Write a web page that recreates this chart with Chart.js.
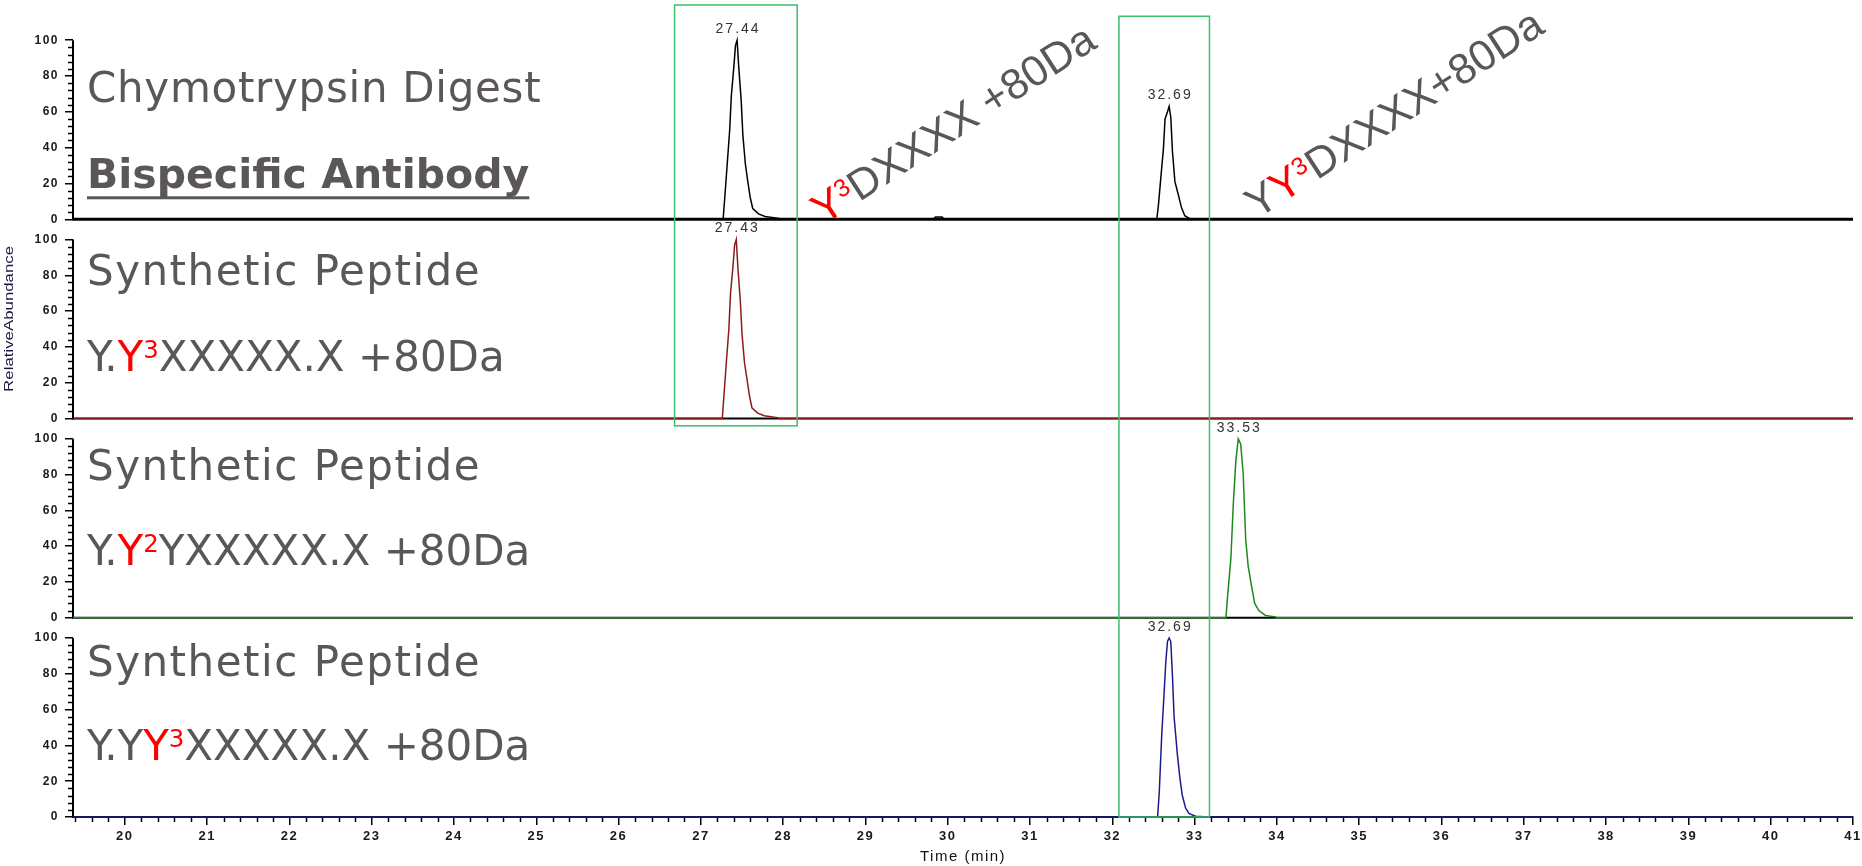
<!DOCTYPE html>
<html>
<head>
<meta charset="utf-8">
<title>Chymotrypsin digest vs synthetic peptides</title>
<script src="https://cdn.jsdelivr.net/npm/chart.js@4.4.0/dist/chart.umd.min.js"></script>
<style>
  html, body { margin: 0; padding: 0; background: #fff; }
  #wrap { width: 1862px; height: 866px; }
</style>
</head>
<body>
<div id="wrap"><canvas id="chart-main" width="1862" height="866"></canvas></div>
<script>
// retention time axis (min)
const timeMin = 19.37;
const timeMax = 41;
const timeTicks = [20, 21, 22, 23, 24, 25, 26, 27, 28, 29, 30, 31, 32, 33, 34, 35, 36, 37, 38, 39, 40, 41];
const abundanceTicks = [0, 20, 40, 60, 80, 100];
const abundanceMax = 111.3;

// panel 1: chymotrypsin digest, bispecific antibody
const digestTime = [19.37, 27.27, 27.29, 27.32, 27.35, 27.37, 27.40, 27.42, 27.44, 27.46, 27.49, 27.51, 27.54, 27.57, 27.60, 27.63, 27.70, 27.78, 27.95, 27.97,
  29.82, 29.85, 29.93, 29.96,
  32.54, 32.56, 32.60, 32.62, 32.64, 32.67, 32.69, 32.71, 32.73, 32.76, 32.80, 32.84, 32.88, 32.95, 41];
const digestAbund = [0, 0, 12, 31, 50, 69, 85, 97, 100, 85, 66, 47, 31, 21, 12, 6, 3, 1.5, 0.5, 0,
  0, 1.2, 1.2, 0,
  0, 8, 29, 39, 56, 60, 63, 57, 38, 21, 14, 6.5, 2, 0, 0];
const digestPeaks = [27.44, 32.69];

// panel 2: synthetic Y.Y3XXXXX.X +80Da
const syn1Time = [19.37, 27.26, 27.28, 27.31, 27.34, 27.36, 27.39, 27.41, 27.43, 27.45, 27.48, 27.50, 27.53, 27.56, 27.59, 27.62, 27.69, 27.77, 27.93, 27.95, 41];
const syn1Abund = [0, 0, 12.7, 32, 50, 70, 85, 97, 100, 84, 65, 47, 31, 22, 12.7, 6, 3, 1.5, 0.5, 0, 0];
const syn1Peaks = [27.43];

// panel 3: synthetic Y.Y2YXXXXX.X +80Da
const syn2Time = [19.37, 33.38, 33.40, 33.44, 33.47, 33.50, 33.53, 33.56, 33.59, 33.62, 33.65, 33.69, 33.73, 33.78, 33.86, 33.98, 34.00, 41];
const syn2Abund = [0, 0, 12, 33, 64, 87.5, 100, 97, 80, 44, 29, 18, 8, 4, 1.3, 0.5, 0, 0];
const syn2Peaks = [33.53];

// panel 4: synthetic Y.YY3XXXXX.X +80Da
const syn3Time = [19.37, 32.55, 32.57, 32.60, 32.62, 32.65, 32.67, 32.69, 32.71, 32.73, 32.75, 32.79, 32.82, 32.85, 32.89, 32.93, 33.01, 33.17, 41];
const syn3Abund = [0, 0, 14, 46, 62, 87, 98, 100, 98, 79, 56, 35, 22, 12, 5, 2, 0.4, 0, 0];
const syn3Peaks = [32.69];

const panelAxes = ['yDigest', 'ySyn1', 'ySyn2', 'ySyn3'];
const panelColors = ['#000000', '#8b1c1c', '#1b8a1b', '#1c1c8c'];
const panelTimes = [digestTime, syn1Time, syn2Time, syn3Time];
const panelAbund = [digestAbund, syn1Abund, syn2Abund, syn3Abund];
const panelPeaks = [digestPeaks, syn1Peaks, syn2Peaks, syn3Peaks];

// caption rows: [text, style] segments, style r = red, rs = red superscript
const captionX = 19.54;
const captionRows = [
  { axis: 'yDigest', y: 65.5, spacing: 0.7, segs: [['Chymotrypsin Digest']] },
  { axis: 'yDigest', y: 17.3, bold: true, underline: true, segs: [['Bispecific Antibody']] },
  { axis: 'ySyn1', y: 74.8, spacing: 1.5, segs: [['Synthetic Peptide']] },
  { axis: 'ySyn1', y: 26.7, segs: [['Y.'], ['Y', 'r'], ['3', 'rs'], ['XXXXX.X +80Da']] },
  { axis: 'ySyn2', y: 77.1, spacing: 1.5, segs: [['Synthetic Peptide']] },
  { axis: 'ySyn2', y: 29.3, segs: [['Y.'], ['Y', 'r'], ['2', 'rs'], ['YXXXXX.X +80Da']] },
  { axis: 'ySyn3', y: 78.9, spacing: 1.5, segs: [['Synthetic Peptide']] },
  { axis: 'ySyn3', y: 31.7, segs: [['Y.Y'], ['Y', 'r'], ['3', 'rs'], ['XXXXX.X +80Da']] },
];
const slantedRows = [
  { axis: 'yDigest', x: 28.49, y: -3.5, segs: [['Y', 'r'], ['3', 'rs'], ['DXXXX +80Da']] },
  { axis: 'yDigest', x: 33.76, y: 0, segs: [['Y'], ['Y', 'r'], ['3', 'rs'], ['DXXXX+80Da']] },
];
const highlightBoxes = [
  { from: 26.68, to: 28.17, top: ['yDigest', 119.7], bottom: ['ySyn1', -4.1] },
  { from: 32.08, to: 33.18, top: ['yDigest', 113.4], bottom: ['ySyn3', 0] },
];

const textGrey = '#5b5757';
const boxGreen = '#3dbf6c';

function drawRich(ctx, segs, x, y, size, family, weight) {
  let cx = x;
  segs.forEach(([t, st]) => {
    const sup = st === 'rs';
    ctx.font = `${weight} ${sup ? size * 0.58 : size}px ${family}`;
    ctx.fillStyle = st ? '#ff0000' : textGrey;
    ctx.fillText(t, cx, sup ? y - size * 0.307 : y);
    cx += ctx.measureText(t).width;
  });
  return cx - x;
}

function stroke(ctx, x1, y1, x2, y2) {
  ctx.beginPath();
  ctx.moveTo(x1, y1);
  ctx.lineTo(x2, y2);
  ctx.stroke();
}

const overlay = {
  id: 'overlay',
  // axis labels in the original are widely spaced
  beforeDraw(chart) {
    chart.ctx.letterSpacing = '1.5px';
  },
  beforeDatasetsDraw(chart) {
    const ctx = chart.ctx;
    const xs = chart.scales.x;
    ctx.letterSpacing = '0px';
    ctx.save();
    ctx.strokeStyle = '#000';
    panelAxes.forEach((id, i) => {
      const ys = chart.scales[id];
      const y0 = ys.getPixelForValue(0);
      // baseline and the 0..100 axis line
      ctx.lineWidth = i === 0 ? 2.8 : 2;
      stroke(ctx, xs.left, y0, xs.right, y0);
      ctx.lineWidth = 2;
      stroke(ctx, xs.left, y0 + 1, xs.left, ys.getPixelForValue(100));
      // minor ticks
      ctx.lineWidth = 1.5;
      for (let v = 4; v < 100; v += 4) {
        if (v % 20 === 0) continue;
        const py = Math.round(ys.getPixelForValue(v)) + 0.5;
        stroke(ctx, xs.left - 5, py, xs.left, py);
      }
    });
    const yb = xs.top;
    for (let v = 19.4; v < timeMax; v += 0.2) {
      if (Math.abs(v - Math.round(v)) < 0.01) continue;
      const px = Math.round(xs.getPixelForValue(v)) + 0.5;
      stroke(ctx, px, yb, px, yb + 5);
    }
    ctx.restore();
  },
  afterDatasetsDraw(chart) {
    const ctx = chart.ctx;
    const xs = chart.scales.x;
    ctx.save();

    // y title, drawn here so it can be stretched like the original
    const ya = chart.scales.ySyn1;
    ctx.save();
    ctx.translate(9, (ya.top + ya.bottom) / 2);
    ctx.rotate(-Math.PI / 2);
    ctx.font = '12px "Liberation Sans"';
    ctx.fillStyle = '#1a1a40';
    ctx.textAlign = 'center';
    ctx.textBaseline = 'middle';
    const tw = ctx.measureText('RelativeAbundance').width;
    ctx.scale(146 / tw, 1.1);
    ctx.fillText('RelativeAbundance', 0, 0);
    ctx.restore();

    // peak retention time labels
    ctx.font = '14px "Liberation Sans"';
    ctx.letterSpacing = '2px';
    ctx.fillStyle = '#333';
    ctx.textAlign = 'center';
    ctx.textBaseline = 'middle';
    panelPeaks.forEach((peaks, i) => {
      const ys = chart.scales[panelAxes[i]];
      peaks.forEach((t) => {
        const k = panelTimes[i].reduce((b, v, j, a) => (Math.abs(v - t) < Math.abs(a[b] - t) ? j : b), 0);
        ctx.fillText(t.toFixed(2), xs.getPixelForValue(t) + 1, ys.getPixelForValue(panelAbund[i][k]) - 11);
      });
    });
    ctx.letterSpacing = '0px';

    // panel captions
    ctx.textAlign = 'left';
    ctx.textBaseline = 'alphabetic';
    captionRows.forEach((row) => {
      const ys = chart.scales[row.axis];
      const px = xs.getPixelForValue(captionX);
      const py = ys.getPixelForValue(row.y);
      const size = row.bold ? 41 : 42;
      ctx.letterSpacing = (row.spacing || 0) + 'px';
      const w = drawRich(ctx, row.segs, px, py, size, '"DejaVu Sans"', row.bold ? 'bold' : 'normal');
      ctx.letterSpacing = '0px';
      if (row.underline) {
        ctx.fillStyle = textGrey;
        ctx.fillRect(px, py + 8, w, 3);
      }
    });

    // slanted modification captions
    slantedRows.forEach((row) => {
      const ys = chart.scales[row.axis];
      ctx.save();
      ctx.translate(xs.getPixelForValue(row.x), ys.getPixelForValue(row.y));
      ctx.rotate(-33 * Math.PI / 180);
      drawRich(ctx, row.segs, 0, 0, 43, '"Liberation Sans"', 'normal');
      ctx.restore();
    });

    // green highlight boxes
    ctx.strokeStyle = boxGreen;
    ctx.lineWidth = 1.5;
    highlightBoxes.forEach((b) => {
      const x1 = xs.getPixelForValue(b.from);
      const x2 = xs.getPixelForValue(b.to);
      const y1 = chart.scales[b.top[0]].getPixelForValue(b.top[1]);
      const y2 = chart.scales[b.bottom[0]].getPixelForValue(b.bottom[1]);
      ctx.strokeRect(x1, y1, x2 - x1, y2 - y1);
    });
    ctx.restore();
  },
};

function panelAxis() {
  return {
    type: 'linear',
    position: 'left',
    stack: 'panels',
    stackWeight: 1,
    min: 0,
    max: abundanceMax,
    border: { display: false },
    grid: { drawOnChartArea: false, drawTicks: true, tickLength: 8, color: '#000', lineWidth: 1.5 },
    ticks: { padding: 6, color: '#1a1a1a', font: { family: 'Liberation Sans', size: 12, weight: 'bold' } },
    afterBuildTicks: (s) => { s.ticks = abundanceTicks.map((v) => ({ value: v })); },
    afterFit: (s) => { s.width = 73; },
  };
}

// stacked left axes are laid out last-first, so the top panel goes last
const scales = {
  x: {
    type: 'linear',
    position: 'bottom',
    min: timeMin,
    max: timeMax,
    border: { display: true, color: '#000', width: 2 },
    grid: { drawOnChartArea: false, drawTicks: true, tickLength: 8, color: '#000', lineWidth: 1.5 },
    ticks: { padding: 4, autoSkip: false, maxRotation: 0, color: '#1a1a1a', font: { family: 'Liberation Sans', size: 13, weight: 'bold' } },
    afterBuildTicks: (s) => { s.ticks = timeTicks.map((v) => ({ value: v })); },
    afterFit: (s) => { s.height = 49; s.paddingLeft = 0; s.paddingRight = 0; },
    title: { display: true, text: 'Time (min)', color: '#111', font: { family: 'Liberation Sans', size: 15 }, padding: 0 },
  },
};
[...panelAxes].reverse().forEach((id) => {
  scales[id] = panelAxis();
});

new Chart(document.getElementById('chart-main').getContext('2d'), {
  type: 'line',
  data: {
    datasets: panelAxes.map((id, i) => ({
      label: id,
      data: panelTimes[i].map((t, j) => ({ x: t, y: panelAbund[i][j] })),
      xAxisID: 'x',
      yAxisID: id,
      borderColor: panelColors[i],
      borderWidth: 1.5,
      pointRadius: 0,
      tension: 0,
      fill: false,
      clip: 3,
    })),
  },
  options: {
    responsive: false,
    animation: false,
    devicePixelRatio: 1,
    layout: { padding: { top: 20, right: 9, left: 0, bottom: 0 } },
    plugins: { legend: { display: false }, tooltip: { enabled: false } },
    scales,
  },
  plugins: [overlay],
});
</script>
</body>
</html>
